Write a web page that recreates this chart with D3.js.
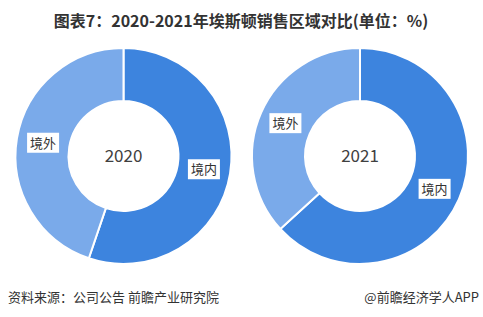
<!DOCTYPE html>
<html>
<head>
<meta charset="utf-8">
<script src="https://cdn.jsdelivr.net/npm/d3@7"></script>
<style>
  body { margin: 0; background: #fff; }
  svg { display: block; font-family: "Noto Sans CJK SC", "Noto Sans", sans-serif; }
</style>
</head>
<body>
<svg id="chart" width="483" height="317"></svg>
<script>
// data (%)
const years = ['2020', '2021'];
const categories = ['境内', '境外'];
const domestic = [55.2, 63.2];
const overseas = [44.8, 36.8];

const colors = d3.scaleOrdinal()
    .domain(categories)
    .range(['#3d84de', '#7aaaea']);

const svg = d3.select('#chart');

svg.append('text')
    .attr('x', 241)
    .attr('y', 27)
    .attr('text-anchor', 'middle')
    .style('font-size', '16px')
    .style('font-weight', 'bold')
    .style('fill', '#333')
    .text('图表7：2020-2021年埃斯顿销售区域对比(单位：%)');

const centers = d3.scalePoint()
    .domain(years)
    .range([123.5, 360]);

const outerR = 108, innerR = 55;

const pie = d3.pie()
    .sort(null)
    .value(d => d.value);

const arc = d3.arc()
    .innerRadius(innerR)
    .outerRadius(outerR);

years.forEach(function(year, i){
    let rows = [
        {'name': categories[0], 'value': domestic[i]},
        {'name': categories[1], 'value': overseas[i]}
    ];

    let g = svg.append('g')
        .attr('transform', 'translate(' + centers(year) + ',156)');

    g.selectAll('path')
        .data(pie(rows))
        .enter()
        .append('path')
        .attr('d', arc)
        .style('fill', d => colors(d.data.name))
        .style('stroke', '#fff')
        .style('stroke-width', 2);

    g.append('text')
        .attr('y', 6)
        .attr('text-anchor', 'middle')
        .style('font-size', '17px')
        .style('fill', '#404040')
        .text(year);

    let labels = g.selectAll('g.lbl')
        .data(pie(rows))
        .enter()
        .append('g')
        .attr('class', 'lbl')
        .attr('transform', d => 'translate(' + arc.centroid(d) + ')');

    labels.append('rect')
        .attr('x', -16)
        .attr('y', -10)
        .attr('width', 32)
        .attr('height', 20)
        .style('fill', '#fff');

    labels.append('text')
        .attr('y', 5)
        .attr('text-anchor', 'middle')
        .style('font-size', '13px')
        .style('fill', '#333')
        .text(d => d.data.name);
});

svg.append('text')
    .attr('x', 8)
    .attr('y', 302)
    .style('font-size', '13px')
    .style('fill', '#333')
    .text('资料来源：公司公告 前瞻产业研究院');

svg.append('text')
    .attr('x', 479)
    .attr('y', 302)
    .attr('text-anchor', 'end')
    .style('font-size', '13px')
    .style('fill', '#333')
    .text('@前瞻经济学人APP');
</script>
</body>
</html>
